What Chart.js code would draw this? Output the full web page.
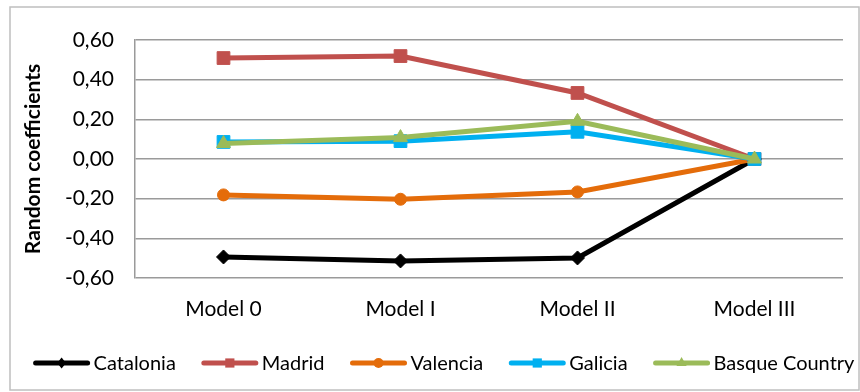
<!DOCTYPE html>
<html>
<head>
<meta charset="utf-8">
<script src="https://cdn.jsdelivr.net/npm/chart.js@4.4.1/dist/chart.umd.min.js"></script>
<style>
  html, body { margin: 0; padding: 0; background: #fff; }
  #wrap { position: relative; width: 860px; height: 392px; }
</style>
</head>
<body>
<div id="wrap"><canvas id="chart" width="860" height="392"></canvas></div>
<script>
// data
const models = ['Model 0', 'Model I', 'Model II', 'Model III'];
const catalonia = [-0.494, -0.514, -0.499, 0.0];
const madrid = [0.509, 0.519, 0.333, 0.0];
const valencia = [-0.181, -0.203, -0.166, 0.0];
const galicia = [0.086, 0.090, 0.137, 0.0];
const basque = [0.078, 0.108, 0.190, 0.0];
const yTicks = [-0.6, -0.4, -0.2, 0, 0.2, 0.4, 0.6];

const FONT = 'Lato, "Open Sans", sans-serif';
const FONT_SIZE = 21;
const LEGEND_SIZE = 20;

const series = [
    { label: 'Catalonia', data: catalonia, color: '#000000', style: 'rectRot', r: 7, lr: 5.5 },
    { label: 'Madrid', data: madrid, color: '#c0504d', style: 'rect', r: 9, lr: 6.5 },
    { label: 'Valencia', data: valencia, color: '#e46c0a', style: 'circle', r: 6, lr: 5 },
    { label: 'Galicia', data: galicia, color: '#00b0f0', style: 'rect', r: 9, lr: 6.5 },
    { label: 'Basque Country', data: basque, color: '#9bbb59', style: 'triangle', r: 8, lr: 6 }
];

function fmt(v) {
    if (Math.abs(v) < 1e-9) v = 0;
    return v.toFixed(2).replace('.', ',');
}

function drawMarker(ctx, style, x, y, r, color) {
    ctx.save();
    ctx.fillStyle = color;
    ctx.beginPath();
    if (style === 'circle') {
        ctx.arc(x, y, r, 0, Math.PI * 2);
    } else if (style === 'rect') {
        const s = r * Math.SQRT1_2;
        ctx.rect(x - s, y - s, s * 2, s * 2);
    } else if (style === 'rectRot') {
        ctx.moveTo(x, y - r);
        ctx.lineTo(x + r * 0.8, y);
        ctx.lineTo(x, y + r);
        ctx.lineTo(x - r * 0.8, y);
        ctx.closePath();
    } else if (style === 'triangle') {
        ctx.moveTo(x, y - r);
        ctx.lineTo(x + r * 0.85, y + r * 0.5);
        ctx.lineTo(x - r * 0.85, y + r * 0.5);
        ctx.closePath();
    }
    ctx.fill();
    ctx.restore();
}

// outer frame + legend drawn by hand (Excel style line+marker samples)
const framePlugin = {
    id: 'frame',
    beforeDraw(chart) {
        const ctx = chart.ctx;
        ctx.save();
        ctx.strokeStyle = '#bfbfbf';
        ctx.lineWidth = 1.5;
        ctx.strokeRect(10, 7, 849, 383);
        ctx.restore();
    },
    afterDraw(chart) {
        const ctx = chart.ctx;
        const lineLen = 56, textGap = 4, itemGap = 26;
        const y = 363;
        ctx.save();
        ctx.font = LEGEND_SIZE + 'px ' + FONT;
        let total = 0;
        const widths = series.map(s => ctx.measureText(s.label).width);
        widths.forEach(w => { total += lineLen + textGap + w; });
        total += itemGap * (series.length - 1);
        let x = 444 - total / 2;
        series.forEach((s, i) => {
            ctx.strokeStyle = s.color;
            ctx.lineWidth = 5;
            ctx.lineCap = 'round';
            ctx.beginPath();
            ctx.moveTo(x + 2, y);
            ctx.lineTo(x + lineLen - 2, y);
            ctx.stroke();
            drawMarker(ctx, s.style, x + lineLen / 2, y, s.lr, s.color);
            ctx.fillStyle = '#000';
            ctx.textBaseline = 'middle';
            ctx.textAlign = 'left';
            ctx.fillText(s.label, x + lineLen + textGap, y + 1);
            x += lineLen + textGap + widths[i] + itemGap;
        });
        ctx.restore();
    }
};

const ctx = document.getElementById('chart').getContext('2d');
const myChart = new Chart(ctx, {
    type: 'line',
    data: {
        labels: models,
        datasets: series.map((s, i) => ({
            label: s.label,
            data: s.data,
            borderColor: s.color,
            backgroundColor: s.color,
            borderWidth: 5,
            pointStyle: s.style,
            pointRadius: s.r,
            pointHoverRadius: s.r,
            pointBorderWidth: 1,
            pointBackgroundColor: s.color,
            pointBorderColor: s.color,
            tension: 0,
            order: series.length - i
        }))
    },
    options: {
        responsive: false,
        animation: false,
        events: [],
        layout: { padding: { left: 21, right: 17, top: 40, bottom: 56 } },
        plugins: {
            tooltip: { enabled: false },
            legend: { display: false }
        },
        scales: {
            x: {
                offset: true,
                grid: { display: false, drawTicks: false },
                border: { display: false },
                ticks: { color: '#000', font: { family: FONT, size: FONT_SIZE }, padding: 19 },
                afterFit(scale) { scale.height = 58; }
            },
            y: {
                min: -0.6,
                max: 0.6,
                afterBuildTicks(scale) {
                    scale.ticks = yTicks.map(v => ({ value: v }));
                },
                grid: { color: '#9a9a9a', lineWidth: 1.5, drawTicks: false },
                border: { display: true, color: '#9a9a9a', width: 1.5 },
                ticks: {
                    color: '#000',
                    font: { family: FONT, size: FONT_SIZE },
                    padding: 21,
                    callback: (v) => fmt(v)
                },
                title: {
                    display: true,
                    text: 'Random coefficients',
                    color: '#000',
                    font: { family: FONT, size: 21, weight: 'bold' },
                    padding: { top: 0, bottom: 0 }
                },
                afterFit(scale) { scale.width = 114; }
            }
        }
    },
    plugins: [framePlugin]
});
</script>
</body>
</html>
